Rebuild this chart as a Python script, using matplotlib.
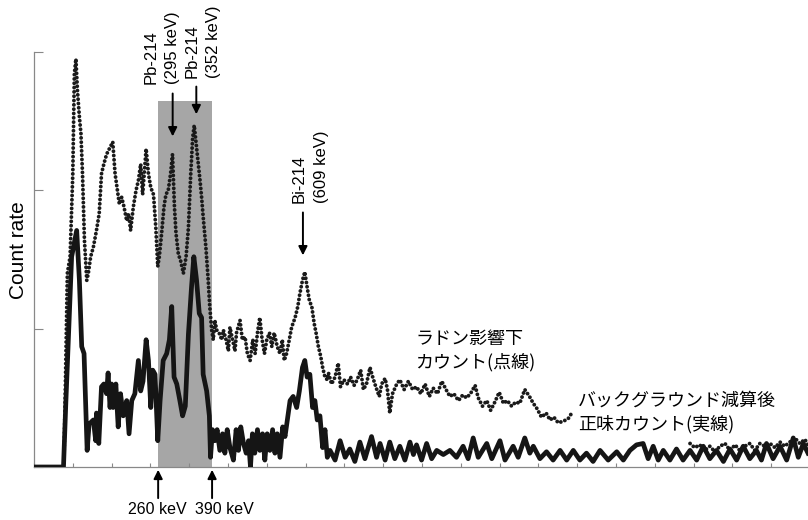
import matplotlib
matplotlib.use("Agg")
import matplotlib.pyplot as plt
from matplotlib.patches import Rectangle
import numpy as np

plt.rcParams['font.family'] = ['Liberation Sans', 'Noto Sans CJK JP']

# net count after background subtraction (solid), channel vs count rate
net_ch = [0, 76, 82, 97, 110, 117, 123, 129, 137, 142, 153, 159, 161, 167, 174, 180,
          187, 191, 196, 200, 204, 211, 217, 223, 230, 239, 245, 252, 260, 269, 275,
          281, 289, 295, 301, 306, 312, 319, 325, 333, 342, 349, 355, 361, 368, 376,
          383, 390, 398, 406, 412, 419, 426, 432, 436, 445, 452, 455, 460, 466, 472,
          479, 486, 492, 498, 505, 514, 521, 527, 533, 540, 547, 553, 558, 563, 569,
          576, 582, 589, 595, 601, 608, 615, 621, 627, 634, 641, 647, 653, 660, 668,
          677, 684, 692, 698, 704, 711, 718, 724, 730, 737, 744, 750, 756, 763, 776,
          789, 802, 814, 827, 840, 853, 870, 883, 892, 905, 917, 930, 943, 956, 969,
          978, 986, 999, 1012, 1025, 1038, 1055, 1072, 1089, 1106, 1119, 1132, 1145,
          1167, 1180, 1201, 1214, 1235, 1248, 1265, 1278, 1287, 1304, 1321, 1338, 1356,
          1373, 1390, 1407, 1424, 1441, 1459, 1480, 1502, 1519, 1536, 1553, 1570, 1583,
          1596, 1609, 1622, 1639, 1656, 1673, 1691, 1708, 1725, 1742, 1759, 1777, 1794,
          1811, 1828, 1845, 1862, 1875, 1888, 1905, 1923, 1940, 1957, 1970, 1983, 1995]
net_val = [0, 0, 46, 152, 171, 135, 87, 82, 12, 31, 34, 19, 39, 17, 58, 60,
           53, 68, 43, 60, 43, 60, 29, 53, 37, 48, 24, 48, 53, 77, 55,
           62, 92, 77, 43, 70, 67, 19, 48, 77, 82, 92, 116, 65, 60, 48,
           37, 44, 96, 130, 152, 135, 111, 108, 67, 55, 37, 7, 27, 19, 27,
           12, 24, 10, 27, 14, 5, 27, 12, 29, 17, 10, 19, 0, 24, 10,
           27, 12, 24, 5, 24, 12, 27, 10, 24, 7, 29, 22, 34, 48, 51,
           43, 55, 72, 77, 65, 67, 43, 48, 34, 37, 14, 27, 7, 12, 5,
           19, 7, 13, 4, 18, 6, 22, 7, 17, 5, 18, 6, 15, 5, 18,
           9, 16, 5, 17, 6, 12, 9, 12, 7, 15, 6, 21, 7,
           17, 6, 19, 5, 15, 7, 21, 10, 15, 6, 11, 5, 12,
           5, 12, 5, 10, 4, 12, 5, 11, 5, 12, 16, 17, 6,
           15, 5, 12, 5, 13, 5, 12, 5, 15, 6, 12, 4, 13,
           5, 15, 6, 12, 5, 17, 6, 15, 5, 21, 7, 17, 10]

# count under radon influence (dotted); hidden behind the label between 1386 and 1691
radon_ch = [77, 80, 86, 93, 100, 104, 108, 112, 117, 121, 125, 130, 136, 140, 146, 153,
            161, 168, 174, 180, 187, 196, 203, 209, 215, 220, 226, 232, 239, 244, 249,
            256, 263, 269, 275, 280, 284, 289, 295, 301, 308, 314, 319, 323, 329, 335,
            340, 346, 352, 357, 362, 366, 372, 378, 385, 392, 398, 404, 409, 413, 419,
            424, 428, 432, 436, 443, 449, 453, 458, 462, 466, 471, 477, 484, 488, 495,
            501, 505, 512, 518, 522, 531, 537, 544, 550, 557, 564, 570, 576, 582, 588,
            594, 600, 607, 613, 619, 627, 634, 640, 645, 651, 658, 664, 673, 680, 685,
            692, 698, 704, 710, 716, 722, 727, 733, 739, 744, 750, 756, 759, 767, 776,
            784, 790, 799, 808, 816, 825, 833, 842, 849, 857, 866, 873, 881, 890, 896,
            905, 911, 917, 924, 935, 943, 954, 965, 976, 986, 997, 1008, 1019, 1029, 1040,
            1051, 1062, 1072, 1082, 1094, 1105, 1115, 1125, 1137, 1145, 1156, 1167, 1177,
            1188, 1199, 1210, 1220, 1231, 1242, 1252, 1265, 1277, 1287, 1297, 1308, 1320,
            1330, 1340, 1351, 1364, 1377, 1386]
radon_val = [3, 44, 140, 152, 212, 284, 295, 272, 253, 241, 212, 164, 135, 140, 152, 159,
             171, 183, 212, 219, 226, 231, 235, 212, 200, 190, 195, 188, 178, 183, 171,
             188, 200, 207, 219, 197, 212, 230, 212, 202, 197, 173, 145, 152, 169, 188,
             197, 200, 212, 226, 188, 169, 154, 149, 140, 152, 173, 212, 238, 247, 231,
             217, 207, 195, 181, 159, 135, 116, 99, 92, 106, 99, 97, 92, 99, 92,
             84, 101, 92, 84, 97, 106, 92, 94, 82, 77, 92, 82, 97, 108, 92,
             82, 92, 97, 87, 97, 87, 82, 92, 77, 82, 92, 101, 108, 116, 125,
             135, 141, 130, 120, 116, 104, 97, 87, 80, 72, 65, 63, 68, 60, 65,
             75, 58, 63, 60, 65, 59, 63, 70, 56, 60, 72, 65, 58, 51, 60,
             64, 56, 39, 53, 60, 63, 56, 62, 56, 58, 53, 60, 51, 57, 53,
             62, 56, 51, 53, 48, 52, 50, 53, 59, 50, 44, 48, 41,
             47, 54, 46, 48, 44, 47, 46, 56, 51, 46, 42, 36, 39,
             34, 36, 32, 33, 35, 39]
radon_tail_ch = [1691, 1703, 1716, 1729, 1742, 1755, 1768, 1781, 1794, 1807, 1819, 1832,
                 1845, 1858, 1871, 1884, 1897, 1910, 1923, 1935, 1948, 1961, 1974, 1987, 1995]
radon_tail_val = [17, 14, 16, 12, 15, 11, 15, 17, 12, 16, 12, 15,
                  17, 12, 17, 15, 17, 14, 18, 15, 18, 21, 17, 20, 16]

window_kev = [260, 390]
peak_kev = [295, 352, 609]
peak_labels = ['Pb-214\n(295 keV)', 'Pb-214\n(352 keV)', 'Bi-214\n(609 keV)']


def kev_to_ch(kev):
    # rough energy calibration
    return 320 + (kev - 260) * 139 / 130


fig = plt.figure(figsize=(8.08, 5.2), dpi=100)
ax = fig.add_axes([34 / 808, 53 / 520, 774 / 808, 415 / 520])

lo, hi = kev_to_ch(window_kev[0]), kev_to_ch(window_kev[1])
ax.add_patch(Rectangle((lo, 0), hi - lo, 264.6, color='#a6a6a6', lw=0, zorder=1))

dot_style = dict(color='#1a1a1a', lw=2.8, linestyle=(0, (0.01, 1.1)),
                 dash_capstyle='round', zorder=2)
ax.plot(radon_ch, radon_val, **dot_style)
ax.plot(radon_tail_ch, radon_tail_val, **dot_style)
ax.plot(net_ch, net_val, color='#151515', lw=3.4, solid_joinstyle='round', zorder=3)

ax.set_xlim(0, 1995)
ax.set_ylim(0, 300)
ax.set_xticks(np.arange(0, 2000, 100))
ax.set_yticks([0, 100, 200, 300])
ax.set_xticklabels([])
ax.set_yticklabels([])
ax.tick_params(axis='x', direction='in', length=3, color='#888888', width=0.8)
ax.tick_params(axis='y', direction='in', length=6.5, color='#888888', width=0.8)
for s in ['top', 'right']:
    ax.spines[s].set_visible(False)
for s in ['left', 'bottom']:
    ax.spines[s].set_color('#888888')
    ax.spines[s].set_linewidth(0.9)

fig.text(19 / 808, 1 - 250 / 520, 'Count rate', rotation=90, ha='center',
         va='center', fontsize=15)

arrow = dict(arrowstyle='-|>', color='black', lw=1.4, mutation_scale=13,
             shrinkA=0, shrinkB=0)

# peak markers: (arrow tail, arrow tip, text x, text bottom) in data units
peak_arrows = [(270, 239, 330, 277), (275, 255, 436, 281), (184, 153, 712, 191)]
for kev, lab, (tail, tip, tx, ty) in zip(peak_kev, peak_labels, peak_arrows):
    c = kev_to_ch(kev)
    ax.annotate('', xy=(c, tip), xytext=(c, tail), arrowprops=arrow,
                annotation_clip=False)
    ax.text(tx, ty, lab, rotation=90, ha='center', va='bottom',
            multialignment='left', fontsize=12, linespacing=1.55, clip_on=False)

# window edges below the axis
for kev, dx in zip(window_kev, [-3, 32]):
    c = kev_to_ch(kev)
    ax.annotate('', xy=(c, -2), xytext=(c, -22.5), arrowprops=arrow,
                annotation_clip=False)
    ax.text(c + dx, -25, f'{kev} keV', ha='center', va='top', fontsize=11.5,
            clip_on=False)

ax.text(982, 99, 'ラドン影響下\nカウント(点線)', ha='left', va='top',
        fontsize=13, family=['Noto Sans CJK JP'], linespacing=1.35)
ax.text(1402, 54.5, 'バックグラウンド減算後\n正味カウント(実線)', ha='left', va='top',
        fontsize=13, family=['Noto Sans CJK JP'], linespacing=1.35)

fig.savefig('out.png', dpi=100, facecolor='white')
